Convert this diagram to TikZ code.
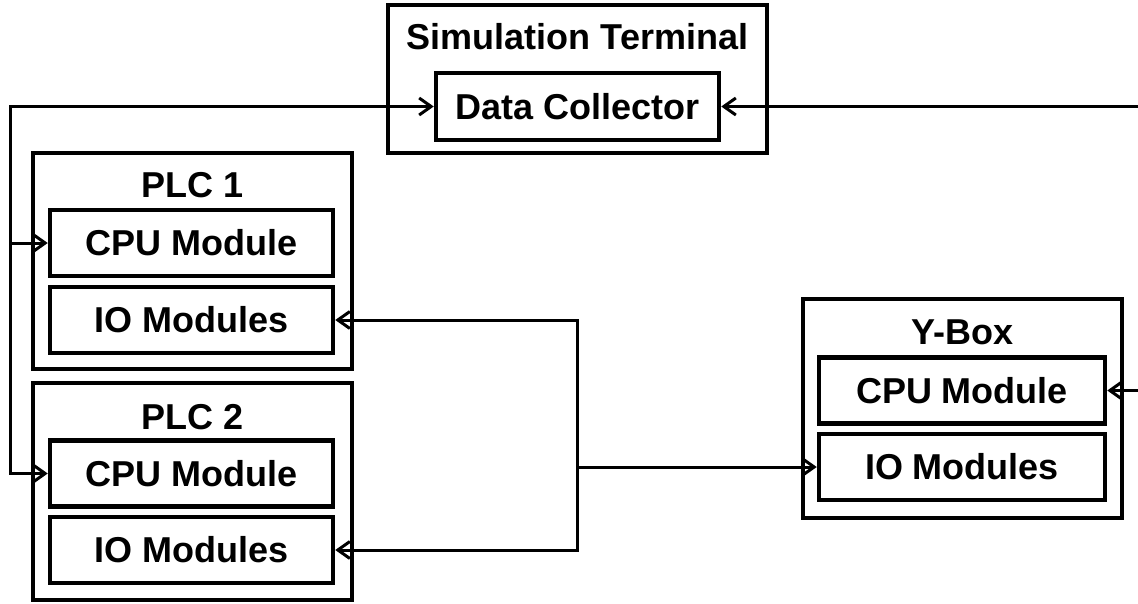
\documentclass[tikz,border=0pt]{standalone}
\usepackage{fontspec}
\setmainfont{Liberation Sans}
\usetikzlibrary{arrows.meta,positioning}

\begin{document}
\begin{tikzpicture}[
    x=1pt, y=-1pt,
    outer/.style={rectangle, draw=black, line width=4.5pt, minimum width=319pt, minimum height=216pt, inner sep=0pt},
    module/.style={rectangle, draw=black, line width=4.5pt, minimum width=283pt, minimum height=66pt, inner sep=0pt, font=\bfseries\fontsize{36}{40}\selectfont},
    title/.style={inner sep=0pt, font=\bfseries\fontsize{36}{40}\selectfont},
    >={Straight Barb[length=12pt,width=17pt]},
    arrow/.style={->, line width=3pt},
    biarrow/.style={<->, line width=3pt}
]
\useasboundingbox (0,0) rectangle (1138,603);

% Simulation terminal
\node (simterm) [outer, minimum width=379pt, minimum height=148pt] at (577.5,79) {};
\node (simtitle) [title] at (577.5,37) {Simulation Terminal};
\node (dc) [module, minimum height=67pt] at (577.5,106.5) {Data Collector};

% PLC 1
\node (plc1) [outer] at (192.5,261) {};
\node (plc1title) [title] at (192.5,185) {PLC 1};
\node (cpu1) [module] at (191.5,243) {CPU Module};
\node (io1) [module] at (191.5,320) {IO Modules};

% PLC 2
\node (plc2) [outer, minimum height=217pt] at (192.5,491.5) {};
\node (plc2title) [title] at (192.5,417) {PLC 2};
\node (cpu2) [module] at (191.5,473.5) {CPU Module};
\node (io2) [module] at (191.5,550) {IO Modules};

% Y-Box
\node (ybox) [outer, minimum height=219pt] at (962.5,408.5) {};
\node (yboxtitle) [title] at (962.5,332) {Y-Box};
\node (ycpu) [module, minimum width=286pt] at (962,390.5) {CPU Module};
\node (yio) [module, minimum width=286pt] at (962,467) {IO Modules};

% Buses
\coordinate (lbus) at (10,0);
\coordinate (iobus) at (577,0);
\coordinate (redge) at (1140,0);

% Arrows
\draw[biarrow] (cpu2.west) -| (lbus |- dc) -- (dc.west);
\draw[arrow] (lbus |- cpu1) -- (cpu1.west);
\draw[biarrow] (io1.east) -- (iobus |- io1) -- (iobus |- io2) -- (io2.east);
\draw[arrow] (iobus |- yio) -- (yio.west);
\draw[arrow] (redge |- dc) -- (dc.east);
\draw[arrow] (redge |- ycpu) -- (ycpu.east);

\end{tikzpicture}
\end{document}
